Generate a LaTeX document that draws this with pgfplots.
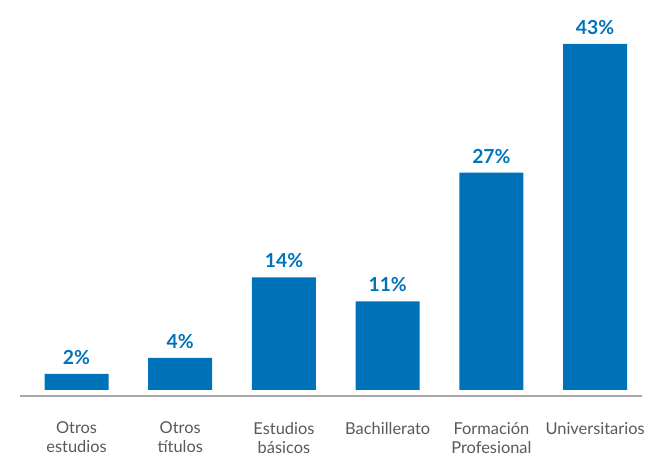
\documentclass[border=0pt]{standalone}
\usepackage{fontspec}
\setmainfont{Lato}
\usepackage{pgfplots}
\pgfplotsset{compat=1.18}
\definecolor{barblue}{HTML}{0072BA}
\definecolor{labgray}{HTML}{595959}
\definecolor{basegray}{HTML}{A8A8A8}
\begin{document}
\begin{tikzpicture}
\begin{axis}[
    scale only axis,
    width=466.5pt, height=297pt,
    xmin=-0.545, xmax=5.452,
    ymin=-0.745, ymax=48.45,
    axis x line*=bottom,
    axis y line=none,
    x axis line style={basegray, line width=1.3pt},
    ybar, bar width=48pt,
    xtick=data,
    xticklabels={{Otros\\estudios},{Otros\\títulos},{Estudios\\básicos},Bachillerato,{Formación\\Profesional},Universitarios},
    major tick length=0pt,
    xticklabel style={font=\fontsize{12.3}{14.25}\selectfont, text=labgray, align=center, anchor=north, yshift=-16pt},
    nodes near coords={\pgfmathprintnumber[assume math mode=true]{\pgfplotspointmeta}\%},
    every node near coord/.append style={font=\fontsize{14.5}{17}\bfseries, text=barblue, yshift=3.5pt},
    clip=false,
]
\addplot[fill=barblue, draw=none] coordinates {
    (0,2) (1,4) (2,14) (3,11) (4,27) (5,43)
};
\coordinate (sw) at (rel axis cs:0,0);
\coordinate (ne) at (rel axis cs:1,1);
\end{axis}
\pgfresetboundingbox
\path[use as bounding box] ([xshift=-15pt,yshift=-44.25pt]sw) rectangle ([xshift=3pt]ne);
\end{tikzpicture}
\end{document}
